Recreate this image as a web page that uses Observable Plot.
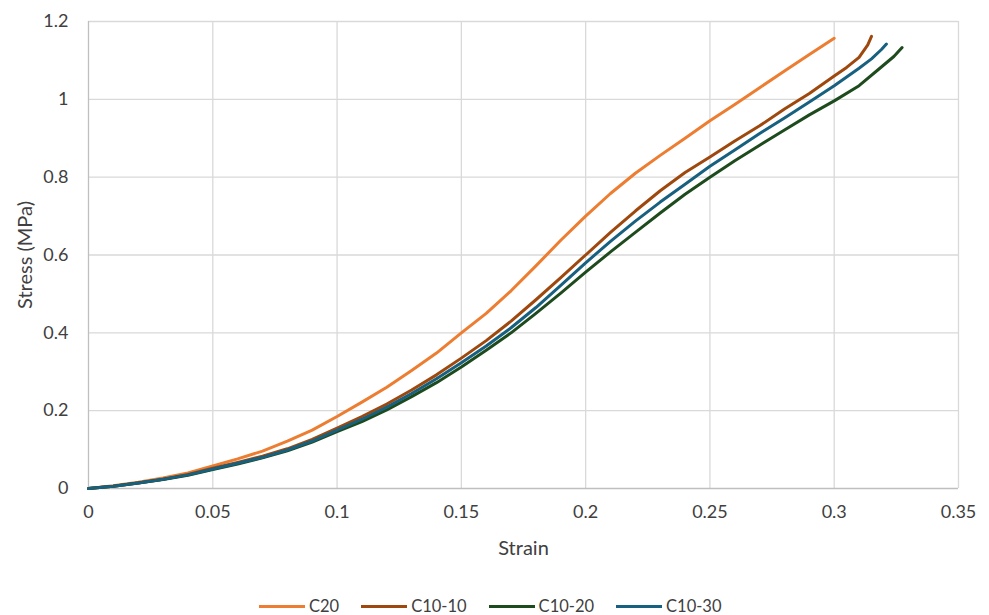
<!DOCTYPE html>
<html>
<head>
<meta charset="utf-8">
<script src="https://cdn.jsdelivr.net/npm/d3@7"></script>
<script src="https://cdn.jsdelivr.net/npm/@observablehq/plot@0.6"></script>
<style>
  html, body { margin: 0; padding: 0; background: #fff; }
  #chart { width: 989px; height: 615px; position: relative; font-family: Lato, "Open Sans", sans-serif; overflow: hidden; }
  #legend { position: absolute; left: 0; top: 594px; width: 989px; height: 24px; display: flex; align-items: center; padding-left: 259px; box-sizing: border-box; font-size: 16.5px; line-height: 20px; color: #404040; }
  .item { display: flex; align-items: center; margin-right: 22px; }
  .swatch { width: 46px; height: 3px; margin-right: 4px; }
</style>
</head>
<body>
<div id="chart"></div>
<script>
const seriesNames = ["C20", "C10-10", "C10-20", "C10-30"];
const seriesColors = ["#ED7D31", "#9E480E", "#1E4B1E", "#17607F"];

const strainC20 = [0,0.01,0.02,0.03,0.04,0.05,0.06,0.07,0.08,0.09,0.10,0.11,0.12,0.13,0.14,0.15,0.16,0.17,0.18,0.19,0.20,0.21,0.22,0.23,0.24,0.25,0.26,0.27,0.28,0.29,0.30];
const stressC20 = [0,0.007,0.016,0.027,0.040,0.058,0.076,0.096,0.122,0.150,0.185,0.222,0.260,0.303,0.348,0.400,0.450,0.508,0.572,0.638,0.700,0.758,0.810,0.856,0.900,0.945,0.987,1.030,1.073,1.115,1.157];

const strainC1010 = [0,0.01,0.02,0.03,0.04,0.05,0.06,0.07,0.08,0.09,0.10,0.11,0.12,0.13,0.14,0.15,0.16,0.17,0.18,0.19,0.20,0.21,0.22,0.23,0.24,0.25,0.26,0.27,0.28,0.29,0.30,0.305,0.31,0.3135,0.315];
const stressC1010 = [0,0.006,0.014,0.024,0.036,0.052,0.067,0.083,0.102,0.126,0.155,0.185,0.217,0.253,0.292,0.335,0.380,0.430,0.485,0.542,0.600,0.658,0.713,0.765,0.812,0.852,0.893,0.932,0.975,1.015,1.060,1.082,1.108,1.140,1.162];

const strainC1020 = [0,0.01,0.02,0.03,0.04,0.05,0.06,0.07,0.08,0.09,0.10,0.11,0.12,0.13,0.14,0.15,0.16,0.17,0.18,0.19,0.20,0.21,0.22,0.23,0.24,0.25,0.26,0.27,0.28,0.29,0.30,0.31,0.318,0.324,0.3273];
const stressC1020 = [0,0.006,0.014,0.023,0.034,0.049,0.063,0.079,0.097,0.119,0.146,0.172,0.202,0.236,0.272,0.312,0.355,0.400,0.450,0.502,0.556,0.608,0.658,0.708,0.756,0.800,0.842,0.882,0.921,0.960,0.996,1.035,1.078,1.110,1.133];

const strainC1030 = [0,0.01,0.02,0.03,0.04,0.05,0.06,0.07,0.08,0.09,0.10,0.11,0.12,0.13,0.14,0.15,0.16,0.17,0.18,0.19,0.20,0.21,0.22,0.23,0.24,0.25,0.26,0.27,0.28,0.29,0.30,0.31,0.315,0.319,0.321];
const stressC1030 = [0,0.006,0.014,0.024,0.035,0.050,0.065,0.080,0.099,0.122,0.150,0.178,0.209,0.244,0.282,0.323,0.366,0.413,0.465,0.522,0.580,0.635,0.687,0.736,0.782,0.828,0.870,0.912,0.952,0.993,1.035,1.080,1.104,1.128,1.142];

const xTicks = [0, 0.05, 0.1, 0.15, 0.2, 0.25, 0.3, 0.35];
const yTicks = [0, 0.2, 0.4, 0.6, 0.8, 1, 1.2];
const xTickLabels = ["0", "0.05", "0.1", "0.15", "0.2", "0.25", "0.3", "0.35"];
const yTickLabels = ["0", "0.2", "0.4", "0.6", "0.8", "1", "1.2"];

const strains = [strainC20, strainC1010, strainC1020, strainC1030];
const stresses = [stressC20, stressC1010, stressC1020, stressC1030];
const data = [];
seriesNames.forEach((name, i) => {
  strains[i].forEach((s, j) => data.push({series: name, strain: s, stress: stresses[i][j]}));
});

const plot = Plot.plot({
  width: 989,
  height: 580,
  marginLeft: 88,
  marginRight: 31,
  marginTop: 21,
  marginBottom: 92,
  style: {fontFamily: "Lato, 'Open Sans', sans-serif", fontSize: "18px", color: "#404040", background: "#fff"},
  x: {domain: [0, 0.35]},
  y: {domain: [0, 1.2]},
  color: {domain: seriesNames, range: seriesColors},
  marks: [
    Plot.gridX(xTicks.slice(1), {stroke: "#d9d9d9", strokeOpacity: 1, strokeWidth: 1.3}),
    Plot.gridY(yTicks.slice(1), {stroke: "#d9d9d9", strokeOpacity: 1, strokeWidth: 1.3}),
    Plot.ruleX([0], {stroke: "#bfbfbf", strokeWidth: 1.3}),
    Plot.ruleY([0], {stroke: "#bfbfbf", strokeWidth: 1.3}),
    Plot.axisX(xTicks, {tickSize: 0, tickPadding: 17, label: null, tickFormat: (d, i) => xTickLabels[i], fill: "#404040", fontSize: 18}),
    Plot.axisY(yTicks, {tickSize: 0, tickPadding: 20, label: null, tickFormat: (d, i) => yTickLabels[i], fill: "#404040", fontSize: 18}),
    Plot.text(["Strain"], {frameAnchor: "bottom", dy: 60, lineAnchor: "middle", textAnchor: "middle", fontSize: 20, fill: "#404040"}),
    Plot.text(["Stress (MPa)"], {frameAnchor: "left", dx: -63, rotate: -90, textAnchor: "middle", lineAnchor: "middle", fontSize: 20, fill: "#404040"}),
    Plot.line(data, {x: "strain", y: "stress", z: "series", stroke: "series", strokeWidth: 3, strokeLinejoin: "round", strokeLinecap: "round"})
  ]
});
document.getElementById("chart").appendChild(plot);

const legend = document.createElement("div");
legend.id = "legend";
seriesNames.forEach((name, i) => {
  const item = document.createElement("div");
  item.className = "item";
  const sw = document.createElement("span");
  sw.className = "swatch";
  sw.style.background = seriesColors[i];
  const tx = document.createElement("span");
  tx.textContent = name;
  item.appendChild(sw);
  item.appendChild(tx);
  legend.appendChild(item);
});
document.getElementById("chart").appendChild(legend);
</script>
</body>
</html>
